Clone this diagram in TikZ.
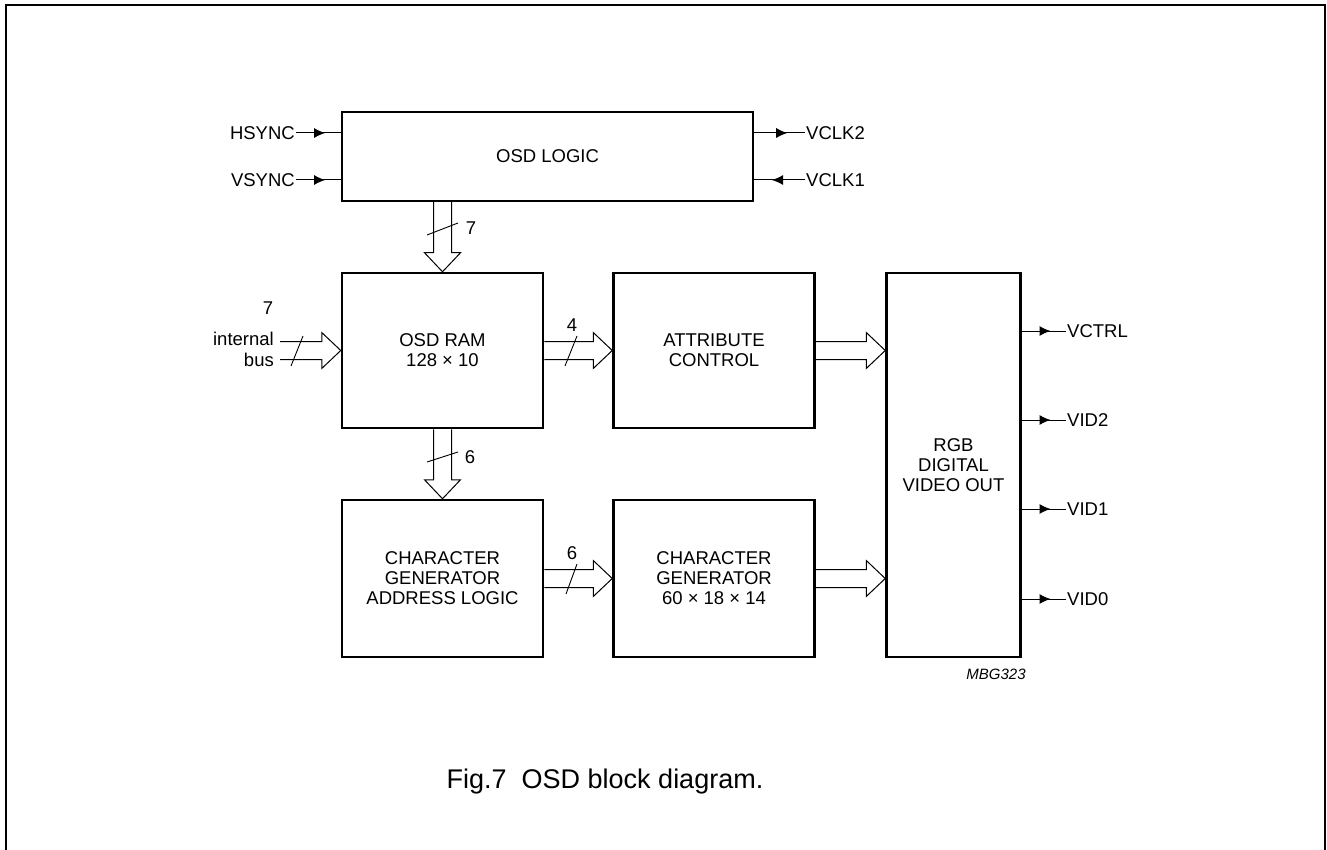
\documentclass[tikz,border=0pt]{standalone}
\usepackage{fontspec}
\setmainfont{Liberation Sans}
\usetikzlibrary{arrows.meta,decorations.markings,calc}

\tikzset{
  blk/.style={draw, line width=2.5pt, align=center, font=\fontsize{18.5}{20}\selectfont},
  lbl/.style={font=\fontsize{18.5}{20}\selectfont, inner sep=1pt},
  sig/.style={line width=1pt, postaction={decorate},
    decoration={markings, mark=at position 0.65 with {\arrow{Latex[length=11pt,width=10pt]}}}},
  bus/.style={line width=1pt},
  slash/.style={line width=0.9pt},
}

% hollow bus arrows
\newcommand{\hbus}[2]{\draw[bus] let \p1=#1, \p2=#2 in
  (\x1,\y1+9) -- (\x2-19,\y1+9) -- (\x2-19,\y1+18) -- (\x2,\y1) -- (\x2-19,\y1-18) -- (\x2-19,\y1-9) -- (\x1,\y1-9);}
\newcommand{\vbus}[2]{\draw[bus] let \p1=#1, \p2=#2 in
  (\x1-9,\y1) -- (\x1-9,\y2+19) -- (\x1-18,\y2+19) -- (\x1,\y2) -- (\x1+18,\y2+19) -- (\x1+9,\y2+19) -- (\x1+9,\y1);}

\begin{document}
\begin{tikzpicture}[x=1pt, y=-1pt]
    \useasboundingbox (0,0) rectangle (1327,850);
    \draw[line width=2pt] (6,850) -- (6,5) -- (1325,5) -- (1325,850);

    % blocks
    \node[blk, minimum width=411, minimum height=89] (logic) at (547.5,156.5) {OSD LOGIC};
    \node[blk, minimum width=201, minimum height=155] (ram) at (442.5,350.5) {OSD RAM\\128 × 10};
    \node[blk, minimum width=201, minimum height=155] (attr) at (714,350.5) {ATTRIBUTE\\CONTROL};
    \node[blk, minimum width=134, minimum height=384] (rgb) at (953.5,465) {RGB\\DIGITAL\\VIDEO OUT};
    \node[blk, minimum width=201, minimum height=157] (cgal) at (442.5,578.5) {CHARACTER\\GENERATOR\\ADDRESS LOGIC};
    \node[blk, minimum width=201, minimum height=157] (cg) at (714,578.5) {CHARACTER\\GENERATOR\\60 × 18 × 14};

    % signals
    \node[lbl, anchor=east] (hsync) at (296,133) {HSYNC};
    \node[lbl, anchor=east] (vsync) at (296,180) {VSYNC};
    \node[lbl, anchor=west] (vclk2) at (805,133) {VCLK2};
    \node[lbl, anchor=west] (vclk1) at (805,180) {VCLK1};
    \draw[sig] (hsync.east) -- (hsync.east -| logic.west);
    \draw[sig] (vsync.east) -- (vsync.east -| logic.west);
    \draw[sig] (vclk2.west -| logic.east) -- (vclk2.west);
    \draw[sig] (vclk1.west) -- (vclk1.west -| logic.east);

    \node[lbl, anchor=west] (vctrl) at (1066,331) {VCTRL};
    \node[lbl, anchor=west] (vid2) at (1066,420) {VID2};
    \node[lbl, anchor=west] (vid1) at (1066,509) {VID1};
    \node[lbl, anchor=west] (vid0) at (1066,599) {VID0};
    \foreach \o in {vctrl,vid2,vid1,vid0}
        \draw[sig] (\o.west -| rgb.east) -- (\o.west);

    % buses
    \coordinate (ib) at (280,350.5);
    \node[lbl, anchor=east] (ibtop) at (275,339) {internal};
    \node[lbl, anchor=east] (ibbot) at (275,360) {bus};
    \hbus{(ib)}{(ram.west)}
    \vbus{(ram.north |- logic.south)}{(ram.north)}
    \hbus{(ram.east)}{(attr.west)}
    \hbus{(attr.east)}{(attr.east -| rgb.west)}
    \vbus{(ram.south)}{(cgal.north)}
    \hbus{(cgal.east)}{(cg.west)}
    \hbus{(cg.east)}{(cg.east -| rgb.west)}

    % bus widths
    \draw[slash] (291,366) -- (303,336);
    \node[lbl] (n7a) at (268,308) {7};
    \draw[slash] (427,235) -- (458,223);
    \node[lbl] (n7b) at (471,228) {7};
    \draw[slash] (565,366) -- (577,336);
    \node[lbl] (n4) at (572,325) {4};
    \draw[slash] (427,462) -- (458,452);
    \node[lbl] (n6a) at (470,457) {6};
    \draw[slash] (566,594) -- (577,564);
    \node[lbl] (n6b) at (572,553) {6};

    \node[font=\fontsize{15}{17}\selectfont\itshape] (code) at (996,674) {MBG323};
    \node[font=\fontsize{27}{30}\selectfont] (cap) at (605,782) {Fig.7\ \ OSD block diagram.};
\end{tikzpicture}
\end{document}
